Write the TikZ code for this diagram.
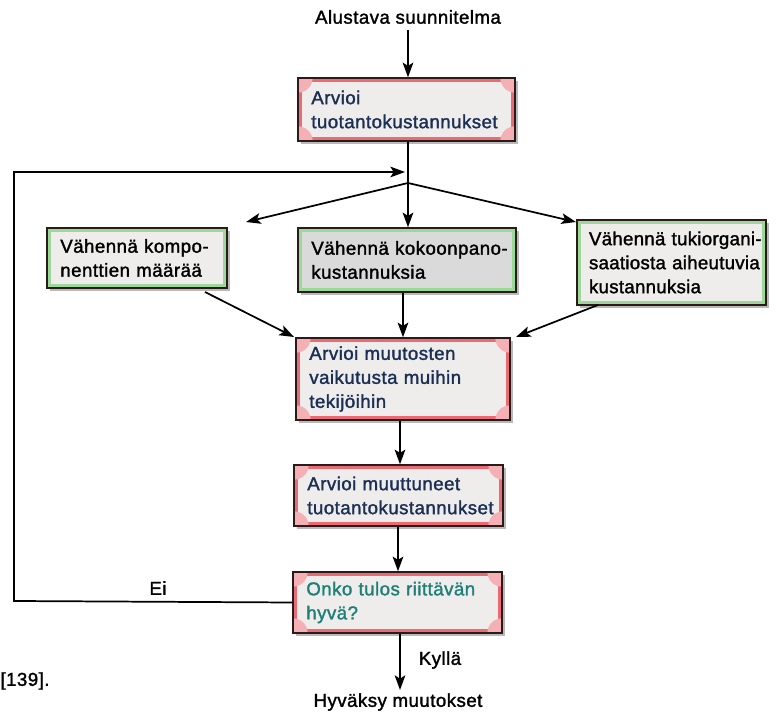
\documentclass[tikz,border=0pt]{standalone}
\usepackage{fontspec}
\setmainfont{Liberation Sans}[LetterSpace=3]
\newfontfamily\boxfont{Liberation Sans}[LetterSpace=2.5,FakeBold=1.6]
\newfontfamily\boxfontnarrow{Liberation Sans}[LetterSpace=1.5,FakeBold=1.6]
\usetikzlibrary{arrows.meta,shadows}
\hyphenpenalty=10000 \exhyphenpenalty=10000
\definecolor{navy}{HTML}{1B2F55}
\definecolor{tealtxt}{HTML}{1F7F78}
\definecolor{boxfill}{HTML}{EFEDEC}
\definecolor{boxfilldark}{HTML}{DADADA}
\definecolor{redglow}{HTML}{E8505A}
\definecolor{greenglow}{HTML}{9CD89A}
\definecolor{edge}{HTML}{2A1A1A}
\tikzset{
  fbox/.style={draw=edge, line width=1.1pt, fill=boxfill, align=left, anchor=center,
    inner xsep=10pt, font=\boxfont\fontsize{14}{18}\selectfont,
    drop shadow={shadow xshift=2.5pt, shadow yshift=-2.5pt, fill=gray!55, opacity=1}},
  redbox/.style={fbox, text=navy,
    path picture={\draw[line width=6pt, redglow!85] (path picture bounding box.south west) rectangle (path picture bounding box.north east);
                  \fill[redglow!45] (path picture bounding box.north west) circle (11pt);
                  \fill[redglow!45] (path picture bounding box.north east) circle (11pt);
                  \fill[redglow!45] (path picture bounding box.south west) circle (11pt);
                  \fill[redglow!45] (path picture bounding box.south east) circle (11pt);}},
  greenbox/.style={fbox, text=black,
    path picture={\draw[line width=6pt, greenglow] (path picture bounding box.south west) rectangle (path picture bounding box.north east);}},
  conn/.style={line width=1.3pt, draw=black},
  arr/.style={conn, -{Stealth[length=11pt,width=8pt,inset=2.5pt]}},
  plain/.style={font=\boxfont\fontsize{14}{17}\selectfont, text=black, inner sep=0pt}
}
\begin{document}
\begin{tikzpicture}[x=0.75pt,y=-0.75pt]
\useasboundingbox (0,0) rectangle (779,712);

\node[plain] (start) at (408,17) {Alustava suunnitelma};
\node[redbox, minimum width=162.75pt, minimum height=47.25pt, text width=142.75pt] (b1) at (406.5,109.5) {\mbox{Arvioi}\\\mbox{tuotantokustannukset}};

\node[greenbox, minimum width=135pt, minimum height=45pt, text width=115pt] (l) at (137,258) {\mbox{Vähennä kompo-}\\\mbox{nenttien määrää}};
\node[greenbox, fill=boxfilldark, minimum width=163.5pt, minimum height=48pt, text width=143.5pt] (m) at (407,260) {\mbox{Vähennä kokoonpano-}\\\mbox{kustannuksia}};
\node[greenbox, font=\boxfontnarrow\fontsize{14}{18}\selectfont, inner xsep=9pt, minimum width=141.75pt, minimum height=63.75pt, text width=123.75pt] (r) at (671.5,262.5) {\mbox{Vähennä tukiorgani-}\\\mbox{saatiosta aiheutuvia}\\\mbox{kustannuksia}};

\node[redbox, minimum width=160.5pt, minimum height=61.5pt, text width=140.5pt] (b3) at (403,379) {\mbox{Arvioi muutosten}\\\mbox{vaikutusta muihin}\\\mbox{tekijöihin}};
\node[redbox, minimum width=156.75pt, minimum height=45.75pt, text width=136.75pt] (b4) at (398.5,495.5) {\mbox{Arvioi muuttuneet}\\\mbox{tuotantokustannukset}};
\node[redbox, text=tealtxt, minimum width=156.75pt, minimum height=45.75pt, text width=136.75pt] (b5) at (397.5,602.5) {\mbox{Onko tulos riittävän}\\\mbox{hyvä?}};

\node[plain] (end) at (398,702) {Hyväksy muutokset};
\node[plain] (yes) at (440,660) {Kyllä};
\node[plain] (no) at (158,588) {Ei};
\node[plain] (ref) at (25,681) {[139].};

\coordinate (split) at (408,183);
\coordinate (fbin) at (405,172);
\coordinate (fbtl) at (14,172);
\coordinate (fbbl) at (14,601);
\coordinate (ltip) at (246,222);
\coordinate (rtip) at (576,222);

\draw[arr] (408,30) -- (b1.north -| 408,0);
\draw[conn] (b1.south -| split) -- (split);
\draw[arr] (split) -- (m.north -| split);
\draw[arr] (split) -- (ltip);
\draw[arr] (split) -- (rtip);
\draw[arr] (b5.west) -- (fbbl) -- (fbtl) -- (fbin);

\draw[arr] (205,292) -- (294,337);
\draw[arr] (m.south -| 403,0) -- (b3.north -| 403,0);
\draw[arr] (598,305) -- (516,337);
\draw[arr] (b3.south -| 400,0) -- (b4.north -| 400,0);
\draw[arr] (b4.south -| 398,0) -- (b5.north -| 398,0);
\draw[arr] (b5.south -| 400,0) -- (400,690);
\end{tikzpicture}
\end{document}
